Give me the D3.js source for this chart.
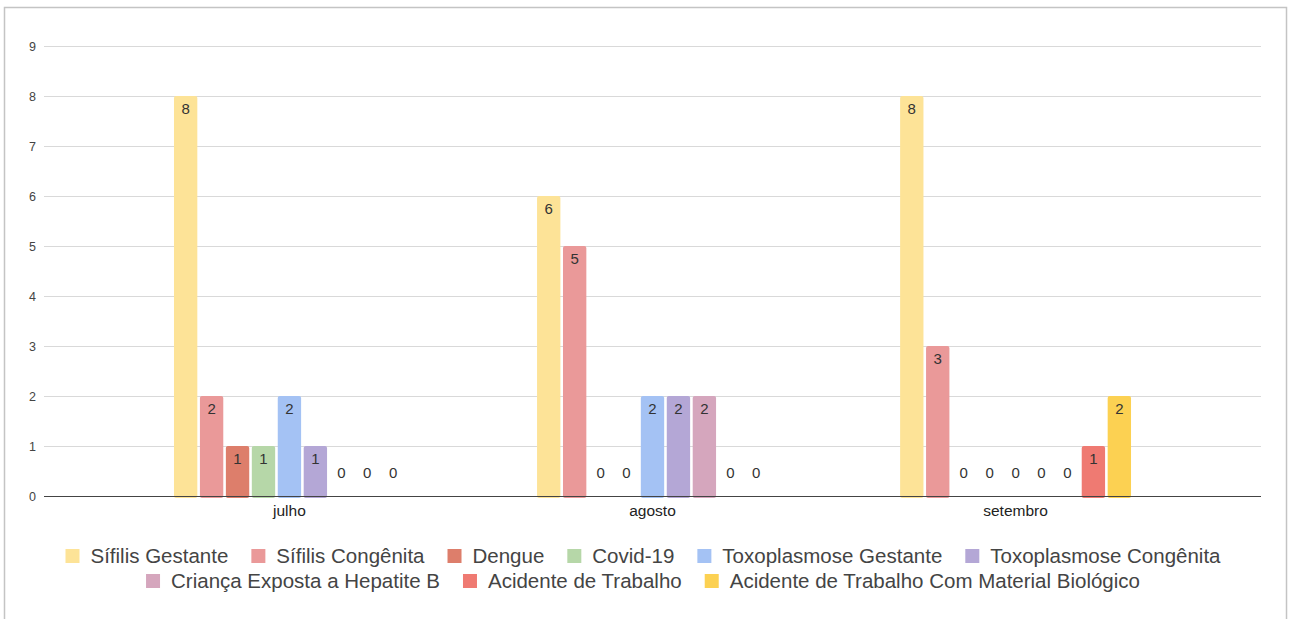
<!DOCTYPE html>
<html>
<head>
<meta charset="utf-8">
<script src="https://cdn.jsdelivr.net/npm/d3@7"></script>
<style>
  html, body { margin: 0; padding: 0; background: #fff; }
  svg { display: block; font-family: "Liberation Sans", Arial, sans-serif; }
</style>
</head>
<body>
<svg id="chart" width="1292" height="619"></svg>
<script>
// dados
const meses = ['julho', 'agosto', 'setembro'];
const series = ['Sífilis Gestante', 'Sífilis Congênita', 'Dengue', 'Covid-19', 'Toxoplasmose Gestante',
    'Toxoplasmose Congênita', 'Criança Exposta a Hepatite B', 'Acidente de Trabalho',
    'Acidente de Trabalho Com Material Biológico'];
const julho = [8, 2, 1, 1, 2, 1, 0, 0, 0];
const agosto = [6, 5, 0, 0, 2, 2, 2, 0, 0];
const setembro = [8, 3, 0, 0, 0, 0, 0, 1, 2];
const yTicks = [0, 1, 2, 3, 4, 5, 6, 7, 8, 9];
const cores = ['#fde397', '#ea9999', '#dd7e6b', '#b6d7a8', '#a4c2f4', '#b4a7d6', '#d5a6bd', '#ef7a72', '#fcd152'];

const valores = [julho, agosto, setembro];

const svg = d3.select('#chart');
const plot = {left: 44, right: 1261, top: 46, bottom: 496};

// moldura
svg.append('rect')
    .attr('x', 4.5).attr('y', 7.5)
    .attr('width', 1282).attr('height', 640)
    .attr('fill', 'none')
    .attr('stroke', '#c4c4c4')
    .attr('stroke-width', 1.5);

const y = d3.scaleLinear().domain([0, 9]).range([plot.bottom, plot.top]);
const x0 = d3.scaleBand().domain(meses).range([plot.left, plot.right])
    .paddingInner(0.364).paddingOuter(0.358);
const x1 = d3.scaleBand().domain(series).range([0, x0.bandwidth()]).paddingInner(0.1);
const cor = d3.scaleOrdinal().domain(series).range(cores);

// grade
svg.append('g')
    .selectAll('line')
    .data(yTicks.filter(d => d > 0))
    .join('line')
    .attr('x1', plot.left).attr('x2', plot.right)
    .attr('y1', d => Math.round(y(d)) + 0.5).attr('y2', d => Math.round(y(d)) + 0.5)
    .attr('stroke', '#d9d9d9');

// eixo y
const yAxis = svg.append('g')
    .attr('transform', `translate(${plot.left},0)`)
    .call(d3.axisLeft(y).tickValues(yTicks).tickSize(0).tickPadding(8));
yAxis.select('.domain').remove();
yAxis.selectAll('text').attr('fill', '#444').style('font-size', '12.5px')
    .style('font-family', '"Liberation Sans", Arial, sans-serif');

// barras
const grupos = svg.append('g')
    .selectAll('g')
    .data(meses)
    .join('g')
    .attr('transform', d => `translate(${x0(d)},0)`);

const celulas = grupos.selectAll('g')
    .data((m, i) => series.map((s, j) => ({serie: s, valor: valores[i][j]})))
    .join('g');

celulas.filter(d => d.valor > 0)
    .append('rect')
    .attr('x', d => x1(d.serie))
    .attr('y', d => y(d.valor))
    .attr('width', x1.bandwidth())
    .attr('height', d => y(0) - y(d.valor) + 2)
    .attr('rx', 2)
    .attr('fill', d => cor(d.serie));

celulas.append('text')
    .attr('x', d => x1(d.serie) + x1.bandwidth() / 2)
    .attr('y', d => d.valor > 0 ? y(d.valor) + 13 : y(0) - 23)
    .attr('dy', '0.36em')
    .attr('text-anchor', 'middle')
    .attr('fill', '#333')
    .style('font-size', '15px')
    .text(d => d.valor);

// linha base
svg.append('line')
    .attr('x1', plot.left).attr('x2', plot.right)
    .attr('y1', plot.bottom + 0.5).attr('y2', plot.bottom + 0.5)
    .attr('stroke', '#444');

// eixo x
svg.append('g')
    .selectAll('text')
    .data(meses)
    .join('text')
    .attr('x', d => x0(d) + x0.bandwidth() / 2)
    .attr('y', 516)
    .attr('text-anchor', 'middle')
    .attr('fill', '#222')
    .style('font-size', '15.5px')
    .text(d => d);

// legenda
const linhas = [series.slice(0, 6), series.slice(6)];
const linhaY = [556, 581];
const centro = 643;
const gapItem = 23;
linhas.forEach((itens, r) => {
    const g = svg.append('g');
    let pos = 0;
    itens.forEach(s => {
        const item = g.append('g').attr('transform', `translate(${pos},0)`);
        item.append('rect')
            .attr('x', 0).attr('y', linhaY[r] - 7)
            .attr('width', 14).attr('height', 14)
            .attr('fill', cor(s));
        const t = item.append('text')
            .attr('x', 25).attr('y', linhaY[r])
            .attr('dy', '0.36em')
            .attr('fill', '#444')
            .style('font-size', '20.5px')
            .text(s);
        pos += 25 + t.node().getComputedTextLength() + gapItem;
    });
    const total = pos - gapItem;
    g.attr('transform', `translate(${centro - total / 2},0)`);
});
</script>
</body>
</html>
